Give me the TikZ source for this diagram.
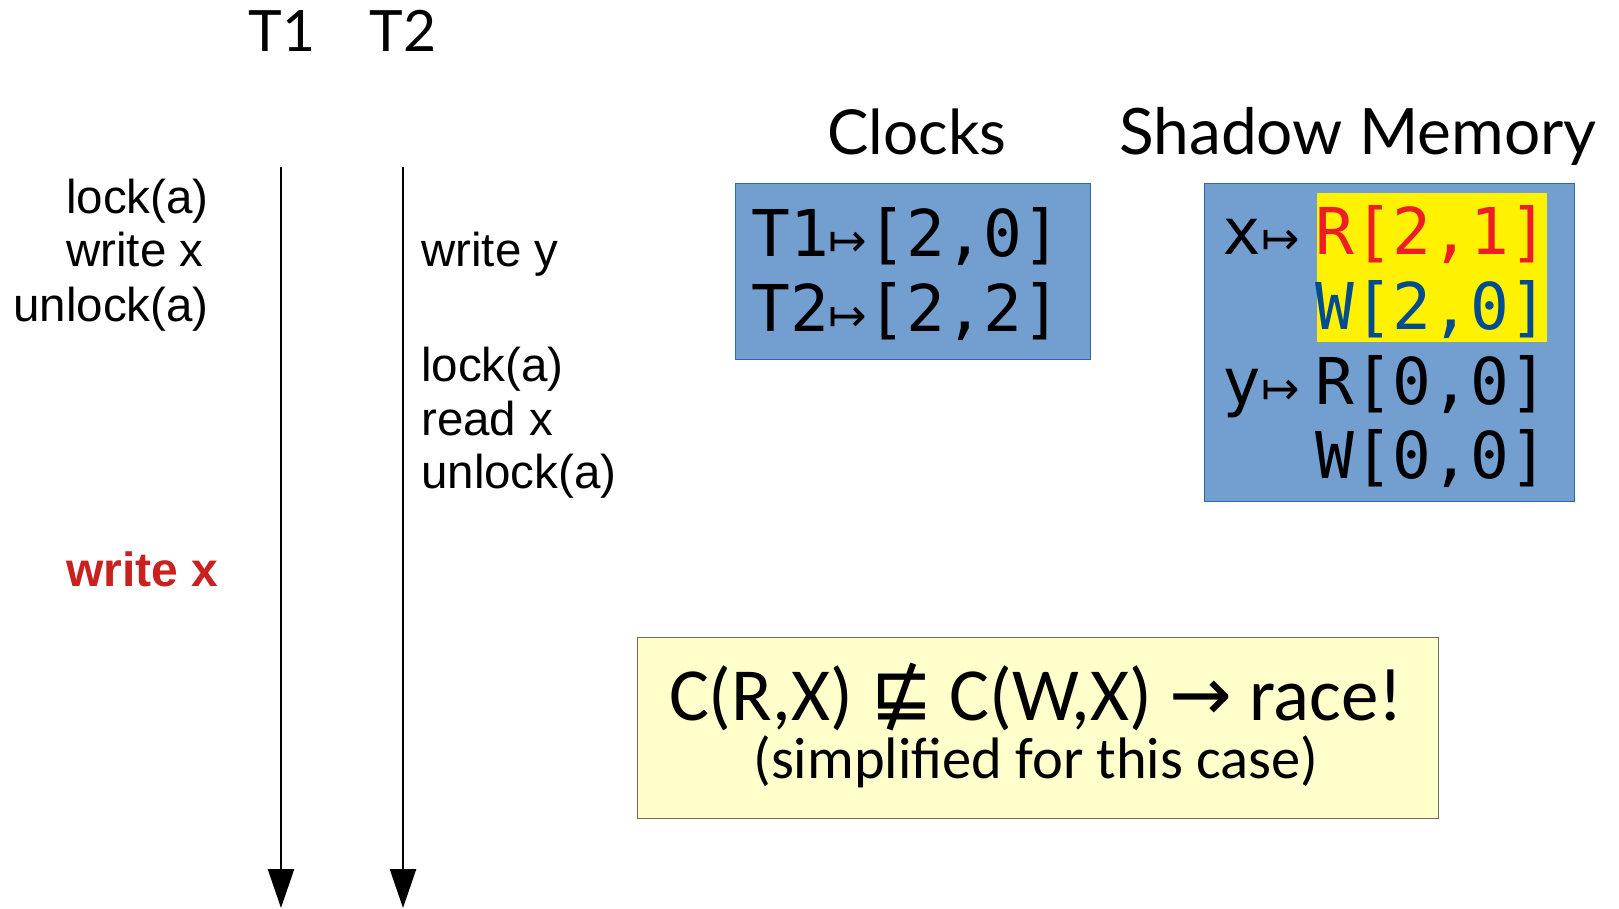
\documentclass[tikz,border=0pt]{standalone}
\usepackage{fontspec}
\setmainfont{Liberation Sans}
\newfontfamily\latofont{Lato}
\newfontfamily\carlitofont{Carlito}
\newfontfamily\monofont{DejaVu Sans Mono}
\newfontfamily\symfont{DejaVu Sans}
\usetikzlibrary{arrows.meta}
\definecolor{boxblue}{HTML}{729FCF}
\definecolor{boxborder}{HTML}{3465A4}
\definecolor{noteyellow}{HTML}{FFFFCC}
\definecolor{noteborder}{HTML}{6E6E5A}
\definecolor{hlyellow}{HTML}{FFF200}
\definecolor{racered}{HTML}{C9211E}
\definecolor{rred}{HTML}{EE1C24}
\definecolor{wblue}{HTML}{004C8F}
\tikzset{
  lbl/.style={inner sep=0pt, font=\fontsize{47.5}{56}\selectfont},
  head/.style={inner sep=0pt, font=\latofont\fontsize{57}{66}\selectfont},
  title/.style={inner sep=0pt, font=\latofont\fontsize{62}{76}\selectfont},
  mono/.style={inner sep=0pt, font=\monofont\fontsize{64.5}{74}\selectfont},
  timeline/.style={line width=2.5pt, -{Triangle[width=26pt,length=39pt]}},
  panel/.style={fill=boxblue, draw=boxborder, line width=1pt},
}
\newcommand{\mto}{{\fontsize{46}{46}\selectfont\symfont ↦}}
\begin{document}
\begin{tikzpicture}[x=1pt,y=-1pt]
\useasboundingbox (0,0) rectangle (1619,909);
% thread headers
\node[head, anchor=base] (h1) at (282,52) {T1};
\node[head, anchor=base] (h2) at (403,52) {T2};
% timelines
\coordinate (t1top) at (281,167);
\coordinate (t1bot) at (281,908);
\coordinate (t2top) at (403,167);
\coordinate (t2bot) at (403,908);
\draw[timeline] (t1top) -- (t1bot);
\draw[timeline] (t2top) -- (t2bot);
% T1 ops
\node[lbl, anchor=base east] (a1) at (209,214) {lock(a)};
\node[lbl, anchor=base west] (a2) at (66,267) {write x};
\node[lbl, anchor=base east] (a3) at (209,321) {unlock(a)};
\node[lbl, anchor=base west, text=racered, font=\bfseries\fontsize{48}{56}\selectfont] (a4) at (66,586) {write x};
% T2 ops
\node[lbl, anchor=base west] (b1) at (421,267) {write y};
\node[lbl, anchor=base west] (b2) at (421,381) {lock(a)};
\node[lbl, anchor=base west] (b3) at (421,435) {read x};
\node[lbl, anchor=base west] (b4) at (421,488) {unlock(a)};
% titles
\node[title, anchor=base] (ct) at (917,155) {Clocks};
\node[title, anchor=base, font=\latofont\fontsize{64}{76}\selectfont] (st) at (1358,155) {Shadow Memory};
% clocks box
\draw[panel] (735,184) rectangle (1090,359);
\node[mono, anchor=base west] (c1) at (751,257) {T1\mto[2,0]};
\node[mono, anchor=base west] (c2) at (751,331) {T2\mto[2,2]};
% shadow memory box
\draw[panel] (1204,184) rectangle (1574,501);
\fill[hlyellow] (1317,193) rectangle (1547,342);
\node[mono, anchor=base west] (sx) at (1222,255) {x\mto};
\node[mono, anchor=base west, text=rred] (s1) at (1315,255) {R[2,1]};
\node[mono, anchor=base west, text=wblue] (s2) at (1315,329) {W[2,0]};
\node[mono, anchor=base west] (sy) at (1222,404) {y\mto};
\node[mono, anchor=base west] (s3) at (1315,404) {R[0,0]};
\node[mono, anchor=base west] (s4) at (1315,478) {W[0,0]};
% race note
\draw[fill=noteyellow, draw=noteborder, line width=1pt] (637,637) rectangle (1438,818);
\node[inner sep=0pt, anchor=base, font=\carlitofont\fontsize{75}{80}\selectfont] (n1) at (1036,720) {C(R,X) {\symfont ⋢} C(W,X) {\symfont →} race!};
\node[inner sep=0pt, anchor=base, font=\carlitofont\fontsize{58.5}{64}\selectfont] (n2) at (1036,778) {(simplified for this case)};
\end{tikzpicture}
\end{document}
